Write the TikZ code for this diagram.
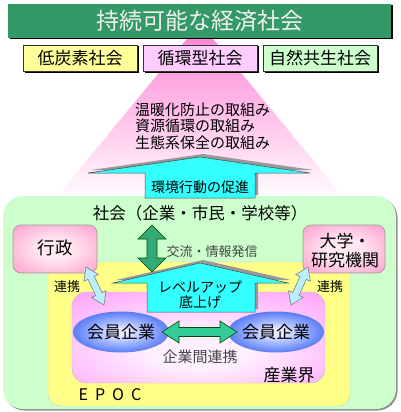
\documentclass[tikz,border=0pt]{standalone}
\usepackage{fontspec}
\setmainfont{Noto Sans CJK JP}
\usetikzlibrary{calc,shadows,shapes.geometric}
\definecolor{titlegreen}{RGB}{51,153,102}
\definecolor{ybox}{RGB}{255,255,153}
\definecolor{pbox}{RGB}{255,204,255}
\definecolor{gbox}{RGB}{204,255,204}
\definecolor{trpink}{RGB}{255,125,210}
\definecolor{arrcyan}{RGB}{51,255,255}
\definecolor{socgreen}{RGB}{204,255,204}
\definecolor{epocyellow}{RGB}{255,255,136}
\definecolor{indpink}{RGB}{255,145,250}
\definecolor{indlight}{RGB}{255,240,255}
\definecolor{adminpink}{RGB}{255,140,195}
\definecolor{adminlight}{RGB}{255,232,242}
\definecolor{ellout}{RGB}{45,85,230}
\definecolor{ellmid}{RGB}{140,165,255}
\definecolor{ellin}{RGB}{230,234,255}
\definecolor{vgreen}{RGB}{51,170,119}
\definecolor{hgreen}{RGB}{51,204,150}
\definecolor{lblue}{RGB}{187,238,255}
\definecolor{txtgray}{RGB}{70,70,70}
\pgfdeclareradialshading{ellsh}{\pgfpoint{0bp}{0bp}}{color(0bp)=(ellin); color(4bp)=(ellin); color(17bp)=(ellmid); color(33bp)=(ellout); color(60bp)=(ellout)}
\pgfdeclareradialshading{indsh}{\pgfpoint{0bp}{-8bp}}{color(0bp)=(indlight); color(10bp)=(indlight); color(45bp)=(indpink); color(80bp)=(indpink)}
\pgfdeclareradialshading{admsh}{\pgfpoint{0bp}{0bp}}{color(0bp)=(adminlight); color(10bp)=(adminlight); color(42bp)=(adminpink); color(80bp)=(adminpink)}
\newcommand\dblarr[6]{%
\draw[#1] (#2) -- ($(#2)!#4!(#3)!#5!90:(#3)$) -- ($(#2)!#4!(#3)!#6!90:(#3)$)
 -- ($(#3)!#4!(#2)!#6!-90:(#2)$) -- ($(#3)!#4!(#2)!#5!-90:(#2)$) -- (#3)
 -- ($(#3)!#4!(#2)!#5!90:(#2)$) -- ($(#3)!#4!(#2)!#6!90:(#2)$)
 -- ($(#2)!#4!(#3)!#6!-90:(#3)$) -- ($(#2)!#4!(#3)!#5!-90:(#3)$) -- cycle;}
\tikzset{
 fsz/.style={font=\fontsize{#1}{#1}\selectfont},
 every node/.style={inner sep=0pt},
 topbox/.style={minimum width=114pt, minimum height=26pt, draw=black!80, line width=0.6pt,
   drop shadow={shadow xshift=1.5pt, shadow yshift=-1.5pt, fill=black, opacity=1}, fsz=17},
 orgbox/.style={rounded corners=8pt, draw=black!40, line width=0.6pt, shade, shading=admsh},
 cyanarr/.style={fill=arrcyan, draw=black!70, line width=0.5pt},
 arrshadow/.style={fill=black!40},
 vgarr/.style={fill=vgreen, draw=black!70!green, line width=0.6pt},
 hgarr/.style={fill=hgreen, draw=black!70!green, line width=0.6pt},
 lbarr/.style={fill=lblue, draw=black!50, line width=0.6pt},
 member/.style={ellipse, shade, shading=ellsh,
   minimum width=82pt, minimum height=41pt, fsz=17},
}
\begin{document}
\begin{tikzpicture}[x=1pt,y=-1pt]
\useasboundingbox (0,0) rectangle (400,412);
% pink fading triangle
\shade[top color=trpink, middle color=trpink!40, bottom color=white] (200,23) -- (346,200) -- (54,200) -- cycle;
% title
\node[fill=titlegreen, minimum width=383pt, minimum height=34pt,
  drop shadow={shadow xshift=1.5pt, shadow yshift=-1.5pt, fill=black, opacity=1},
  text=white!94!black, fsz=23] (title) at (199.5,21) {持続可能な経済社会};
\node[topbox, fill=ybox] (lowc) at (80,58) {低炭素社会};
\node[topbox, fill=pbox] (recy) at (200,58) {循環型社会};
\node[topbox, fill=gbox] (natu) at (320,58) {自然共生社会};
% efforts
\node[anchor=west, fsz=15] (e1) at (135,110) {温暖化防止の取組み};
\node[anchor=west, fsz=15] (e2) at (135,126) {資源循環の取組み};
\node[anchor=west, fsz=15] (e3) at (135,143) {生態系保全の取組み};
% society box
\node[fill=socgreen, rounded corners=20pt, minimum width=393pt, minimum height=213pt,
  drop shadow={shadow xshift=1.5pt, shadow yshift=-1.5pt, fill=black!45, opacity=1}] (society) at (199.5,302.5) {};
% arrow 1
\def\arrA{(200,157) -- (310,173) -- (255,173) -- (255,198) -- (145,198) -- (145,173) -- (88,173) -- cycle}
\fill[arrshadow, xshift=3pt, yshift=3pt] \arrA;
\draw[cyanarr] \arrA;
\node[fsz=14] (promo) at (200,187) {環境行動の促進};
\node[fsz=16.5] (soctext) at (200,213) {社会（企業・市民・学校等）};
% EPOC box
\node[fill=epocyellow, draw=black!20, rounded corners=12pt, minimum width=302pt, minimum height=144pt] (epoc) at (199,334) {};
% industry box
\node[shade, shading=indsh, draw=black!25,
  rounded corners=14pt, minimum width=253pt, minimum height=91pt] (industry) at (198.5,337.5) {};
% admin / university
\node[orgbox, minimum width=84pt, minimum height=48pt] (admin) at (55,249) {};
\node[fsz=17.5] (admintext) at (55,248) {行政};
\node[orgbox, minimum width=82pt, minimum height=48pt] (univ) at (344,249) {};
\node[align=center, font=\fontsize{17}{19}\selectfont] (univtext) at (345,251) {大学・\\研究機関};
% arrow 2
\def\arrB{(200,263) -- (288,283) -- (255,283) -- (255,312) -- (147,312) -- (147,283) -- (113,283) -- cycle}
\fill[arrshadow, xshift=3pt, yshift=3pt] \arrB;
\draw[cyanarr] \arrB;
\node[fsz=14] (lv1) at (200,287) {レベルアップ};
\node[fsz=14] (lv2) at (200,302) {底上げ};
% exchange arrow
\coordinate (ex1) at (152,225);
\coordinate (ex2) at (152,272);
\dblarr{vgarr}{ex1}{ex2}{14pt}{14pt}{5pt}
\node[fsz=13, text=txtgray] (extext) at (212,252) {交流・情報発信};
% collaboration arrows
\node[fsz=13] (col1) at (67,287) {連携};
\node[fsz=13] (col2) at (330,287) {連携};
\coordinate (la1) at (86,267);
\coordinate (la2) at (104,305);
\coordinate (ra1) at (308,267);
\coordinate (ra2) at (291,305);
\dblarr{lbarr}{la1}{la2}{12pt}{8pt}{3.5pt}
\dblarr{lbarr}{ra1}{ra2}{12pt}{8pt}{3.5pt}
% members
\node[member] (m1) at (121,332) {会員企業};
\node[member] (m2) at (276,332) {会員企業};
\coordinate (h1) at (162,332);
\coordinate (h2) at (237,332);
\dblarr{hgarr}{h1}{h2}{17pt}{11pt}{4.5pt}
\node[fsz=15, text=txtgray] (inter) at (200,357) {企業間連携};
\node[fsz=17] (indtext) at (289,375) {産業界};
\node[fsz=16] (epoctext) at (110,395) {E\hspace{7pt}P\hspace{7pt}O\hspace{7pt}C};
\end{tikzpicture}
\end{document}
